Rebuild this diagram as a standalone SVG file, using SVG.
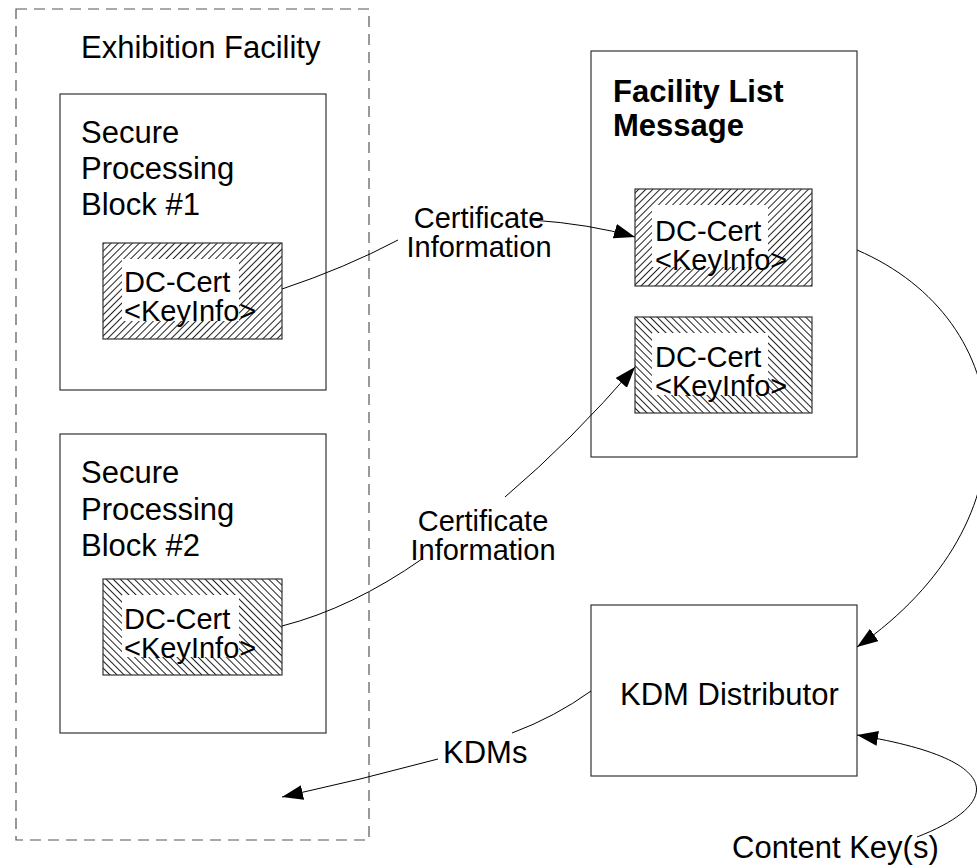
<svg xmlns="http://www.w3.org/2000/svg" width="977" height="868" viewBox="0 0 977 868">
<style>
.box{fill:#fff;stroke:#333;stroke-width:1.2}
.hbox{stroke:#333;stroke-width:1.2}
.t{font-family:"Liberation Sans",Arial,sans-serif;font-size:31px;fill:#000}
.k{font-size:29px}
.b{font-weight:bold}
.c{text-anchor:middle;font-size:29px}
.con{fill:none;stroke:#000;stroke-width:1}
</style>
<defs>
<pattern id="hatchF" width="5" height="5" patternUnits="userSpaceOnUse" patternTransform="rotate(45)">
<rect width="5" height="5" fill="#fff"/>
<line x1="0" y1="0" x2="0" y2="5" stroke="#222" stroke-width="2"/>
</pattern>
<pattern id="hatchB" width="5" height="5" patternUnits="userSpaceOnUse" patternTransform="rotate(-45)">
<rect width="5" height="5" fill="#fff"/>
<line x1="0" y1="0" x2="0" y2="5" stroke="#222" stroke-width="2"/>
</pattern>
<marker id="arr" markerUnits="userSpaceOnUse" markerWidth="22" markerHeight="16" refX="21" refY="7.5" orient="auto">
<path d="M0,0 L21,7.5 L0,15 z" fill="#000"/>
</marker>
</defs>

<g id="exhibition-facility">
<rect x="16" y="9" width="353" height="831" fill="none" stroke="#555" stroke-width="1.2" stroke-dasharray="11,7"/>
<text class="t" x="81" y="58">Exhibition Facility</text>
</g>

<g id="spb1">
<rect class="box" x="60" y="94" width="266" height="296"/>
<text class="t" x="81" y="143">Secure</text>
<text class="t" x="81" y="179">Processing</text>
<text class="t" x="81" y="215">Block #1</text>
</g>
<g id="cert1">
<rect class="hbox" x="103" y="243" width="179" height="96" fill="url(#hatchF)"/>
<rect x="122" y="259" width="117" height="62" fill="#fff"/>
<text class="t k" x="124" y="292">DC-Cert</text>
<text class="t k" x="124" y="321">&lt;KeyInfo&gt;</text>
</g>

<g id="spb2">
<rect class="box" x="60" y="434" width="266" height="299"/>
<text class="t" x="81" y="483">Secure</text>
<text class="t" x="81" y="520">Processing</text>
<text class="t" x="81" y="556">Block #2</text>
</g>
<g id="cert2">
<rect class="hbox" x="103" y="579" width="179" height="96" fill="url(#hatchB)"/>
<rect x="122" y="595" width="117" height="62" fill="#fff"/>
<text class="t k" x="124" y="629">DC-Cert</text>
<text class="t k" x="124" y="658">&lt;KeyInfo&gt;</text>
</g>

<g id="facility-list">
<rect class="box" x="591" y="51" width="266" height="406"/>
<text class="t b" x="613" y="102">Facility List</text>
<text class="t b" x="613" y="136">Message</text>
</g>
<g id="fl-cert1">
<rect class="hbox" x="635" y="189" width="177" height="97" fill="url(#hatchF)"/>
<rect x="652" y="205" width="116" height="62" fill="#fff"/>
<text class="t k" x="655" y="241">DC-Cert</text>
<text class="t k" x="655" y="270">&lt;KeyInfo&gt;</text>
</g>
<g id="fl-cert2">
<rect class="hbox" x="635" y="317" width="177" height="96" fill="url(#hatchB)"/>
<rect x="652" y="333" width="116" height="62" fill="#fff"/>
<text class="t k" x="655" y="367">DC-Cert</text>
<text class="t k" x="655" y="396">&lt;KeyInfo&gt;</text>
</g>

<g id="kdm-distributor">
<rect class="box" x="591" y="605" width="266" height="171"/>
<text class="t" x="620" y="705">KDM Distributor</text>
</g>

<g id="connectors">
<path class="con" d="M282,289 Q345,268 398,240 M532,220 Q590,224 635,237" marker-end="url(#arr)"/>
<path class="con" d="M282,626 Q352,608 422,559 M505,497 Q572,440 635,367" marker-end="url(#arr)"/>
<path class="con" d="M857,250 C1020,320 1040,520 857,647" marker-end="url(#arr)"/>
<path class="con" d="M917,837 C1000,805 1010,760 857,735" marker-end="url(#arr)"/>
<path class="con" d="M591,691 Q555,717 512,733 M438,759 Q360,780 282,797" marker-end="url(#arr)"/>
</g>

<g id="labels">
<text class="t c" x="479" y="228">Certificate</text>
<text class="t c" x="479" y="257">Information</text>
<text class="t c" x="483" y="531">Certificate</text>
<text class="t c" x="483" y="560">Information</text>
<text class="t" x="443" y="763">KDMs</text>
<text class="t" x="732" y="858">Content Key(s)</text>
</g>
</svg>
